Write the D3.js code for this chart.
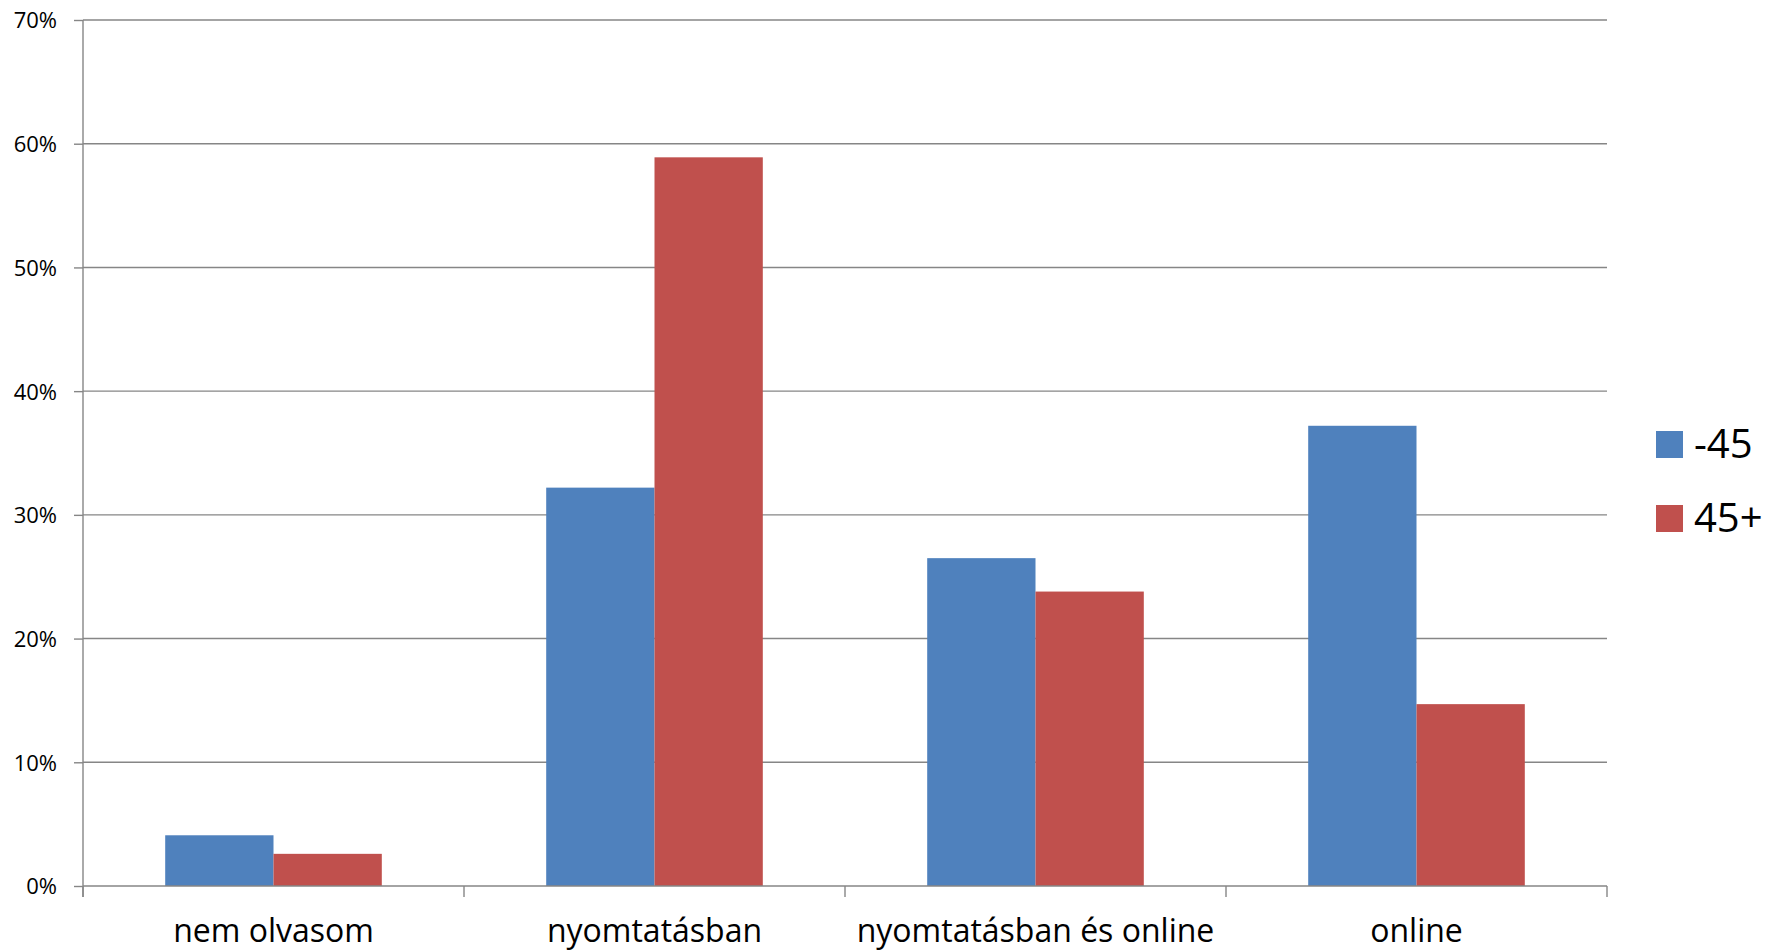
<!DOCTYPE html>
<html>
<head>
<meta charset="utf-8">
<script src="https://cdn.jsdelivr.net/npm/d3@7"></script>
<style>
  html, body { margin: 0; padding: 0; background: #fff; }
  svg { display: block; font-family: "Open Sans", "Noto Sans", sans-serif; }
</style>
</head>
<body>
<svg id="chart" width="1783" height="952"></svg>
<script>
const categories = ["nem olvasom", "nyomtatásban", "nyomtatásban és online", "online"];
const seriesNames = ["-45", "45+"];
const seriesYounger = [4.1, 32.2, 26.5, 37.2];
const seriesOlder = [2.6, 58.9, 23.8, 14.7];
const seriesColors = ["#4F81BD", "#C0504D"];
const yTicks = [0, 10, 20, 30, 40, 50, 60, 70];

const seriesValues = [seriesYounger, seriesOlder];
const svg = d3.select("#chart");

const plot = { left: 83, right: 1607, top: 20, bottom: 886 };

const x = d3.scaleBand().domain(categories).range([plot.left, plot.right]).padding(0);
const xs = d3.scaleBand().domain(seriesNames).range([0, x.bandwidth()]).paddingInner(0).paddingOuter(0.759);
const y = d3.scaleLinear().domain([0, 70]).range([plot.bottom, plot.top]);

const gridColor = "#868686";

// gridlines
svg.append("g")
  .selectAll("line")
  .data(yTicks.filter(d => d > 0))
  .join("line")
  .attr("x1", plot.left).attr("x2", plot.right)
  .attr("y1", d => y(d)).attr("y2", d => y(d))
  .attr("stroke", gridColor).attr("stroke-width", 1.4);

// bars
const rows = [];
categories.forEach((c, i) => {
  seriesNames.forEach((s, j) => rows.push({ c, s, v: seriesValues[j][i], color: seriesColors[j] }));
});
svg.append("g")
  .selectAll("rect")
  .data(rows)
  .join("rect")
  .attr("x", d => x(d.c) + xs(d.s))
  .attr("width", xs.bandwidth())
  .attr("y", d => y(d.v))
  .attr("height", d => y(0) - y(d.v))
  .attr("fill", d => d.color);

// y axis
const yAxis = svg.append("g")
  .attr("transform", `translate(${plot.left},0)`)
  .call(d3.axisLeft(y).tickValues(yTicks).tickFormat(d => d + "%").tickSize(9).tickPadding(17).tickSizeOuter(0));
yAxis.select(".domain").remove();
yAxis.selectAll(".tick line").attr("stroke", gridColor).attr("stroke-width", 1.4);
yAxis.selectAll(".tick text").attr("font-size", 22).attr("fill", "#000")
  .attr("font-family", "'Open Sans', sans-serif").attr("dy", "0.36em");
svg.append("line")
  .attr("x1", plot.left).attr("x2", plot.left)
  .attr("y1", plot.top).attr("y2", plot.bottom + 11)
  .attr("stroke", gridColor).attr("stroke-width", 1.4);

// x axis
const xAxisG = svg.append("g").attr("transform", `translate(0,${plot.bottom})`);
xAxisG.append("line")
  .attr("x1", plot.left).attr("x2", plot.right)
  .attr("y1", 0).attr("y2", 0)
  .attr("stroke", gridColor).attr("stroke-width", 1.4);
const boundaries = categories.map(c => x(c)).concat([x(categories[categories.length - 1]) + x.bandwidth()]);
xAxisG.selectAll("line.tk")
  .data(boundaries)
  .join("line")
  .attr("class", "tk")
  .attr("x1", d => d).attr("x2", d => d)
  .attr("y1", 0).attr("y2", 11)
  .attr("stroke", gridColor).attr("stroke-width", 1.4);
xAxisG.selectAll("text")
  .data(categories)
  .join("text")
  .attr("x", d => x(d) + x.bandwidth() / 2)
  .attr("y", 56)
  .attr("text-anchor", "middle")
  .attr("font-size", 32)
  .attr("fill", "#000")
  .text(d => d);

// legend
const legend = svg.append("g");
seriesNames.forEach((s, j) => {
  const yy = 431 + j * 74;
  legend.append("rect").attr("x", 1656).attr("y", yy).attr("width", 27).attr("height", 27).attr("fill", seriesColors[j]);
  legend.append("text").attr("x", 1694).attr("y", yy + 27).attr("font-size", 40).attr("fill", "#000").text(s);
});
</script>
</body>
</html>
